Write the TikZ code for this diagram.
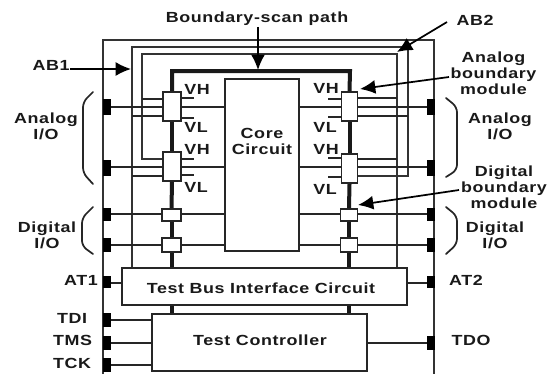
\documentclass[tikz,border=0pt]{standalone}
\usepackage{fontspec}
\setmainfont[FakeStretch=1.22,LetterSpace=4]{Liberation Sans}
\usetikzlibrary{arrows.meta}
\tikzset{
  wire/.style={line width=1.2pt,black!85},
  busline/.style={line width=1.6pt,black!80},
  frameline/.style={line width=1.6pt,black!80},
  scanpath/.style={line width=3pt,black!90},
  boxed/.style={draw=black!85,line width=1.4pt,fill=white,inner sep=0pt},
  pad/.style={fill=black,inner sep=0pt,minimum width=8*0.75pt},
  lab/.style={font=\bfseries\fontsize{11pt}{12pt}\selectfont,inner sep=0.5pt,align=center,text=black!90},
  pointer/.style={line width=1.3pt,black,-{Latex[length=11.5pt,width=10.5pt]}},
  bracket/.style={line width=1.3pt,black!85,line cap=round,rounded corners=4pt}
}
\begin{document}
\begin{tikzpicture}[x=0.75pt,y=-0.75pt]
\useasboundingbox (0,0) rectangle (548,376);
% named corners
\coordinate (frBL) at (103,374); \coordinate (frTL) at (103,40);
\coordinate (frTR) at (434,40);  \coordinate (frBR) at (434,374);
\coordinate (abATL) at (132,47); \coordinate (abATR) at (408,47);
\coordinate (abBTL) at (142,54); \coordinate (abBTR) at (397,54);
\coordinate (spL) at (172,71);   \coordinate (spR) at (350,71);
% boxes
\node[boxed,minimum width=74*0.75pt,minimum height=172*0.75pt] (core) at (262,165) {};
\node[boxed,minimum width=285*0.75pt,minimum height=37*0.75pt] (tbic) at (264.5,286.5) {};
\node[boxed,minimum width=215*0.75pt,minimum height=57*0.75pt] (tc) at (259.5,342.5) {};
% modules
\node[boxed,minimum width=18*0.75pt,minimum height=29*0.75pt] (mL1) at (172,106.5) {};
\node[boxed,minimum width=18*0.75pt,minimum height=29*0.75pt] (mL2) at (172,166.5) {};
\node[boxed,minimum width=16*0.75pt,minimum height=29*0.75pt] (mR1) at (349.5,106.5) {};
\node[boxed,minimum width=16*0.75pt,minimum height=29*0.75pt] (mR2) at (349.5,168.5) {};
\node[boxed,minimum width=19*0.75pt,minimum height=12*0.75pt] (dL1) at (171.5,215) {};
\node[boxed,minimum width=19*0.75pt,minimum height=14*0.75pt] (dL2) at (171.5,245) {};
\node[boxed,minimum width=17*0.75pt,minimum height=12*0.75pt] (dR1) at (349,215) {};
\node[boxed,minimum width=17*0.75pt,minimum height=14*0.75pt] (dR2) at (349,245) {};
% frame
\draw[frameline] (frBL) -- (frTL) -- (frTR) -- (frBR);
% pads
\node[pad,minimum height=16*0.75pt] (pL1) at (107,106.5) {};
\node[pad,minimum height=16*0.75pt] (pL2) at (107,167.5) {};
\node[pad,minimum height=13*0.75pt] (pL3) at (107,214) {};
\node[pad,minimum height=14*0.75pt] (pL4) at (107,245) {};
\node[pad,minimum height=12*0.75pt] (pAT1) at (107,282) {};
\node[pad,minimum height=14*0.75pt] (pTDI) at (107,320) {};
\node[pad,minimum height=14*0.75pt] (pTMS) at (107,343) {};
\node[pad,minimum height=14*0.75pt] (pTCK) at (107,365) {};
\node[pad,minimum height=16*0.75pt] (pR1) at (431,106.5) {};
\node[pad,minimum height=16*0.75pt] (pR2) at (431,167.5) {};
\node[pad,minimum height=13*0.75pt] (pR3) at (431,214) {};
\node[pad,minimum height=14*0.75pt] (pR4) at (431,245) {};
\node[pad,minimum height=12*0.75pt] (pAT2) at (431,282) {};
\node[pad,minimum height=14*0.75pt] (pTDO) at (431,343) {};
% analog-bus lines
\draw[busline] (tbic.north -| abATL) -- (abATL) -- (abATR) -- (abATR |- 0,176) -- (mR2.east |- 0,176);
\draw[busline] (tbic.north -| abBTR) -- (abBTR) -- (abBTL) -- (abBTL |- 0,159) -- (mL2.west |- 0,159);
\draw[wire] (abBTL |- 0,99) -- (mL1.west |- 0,99);
\draw[wire] (abATL |- 0,116) -- (mL1.west |- 0,116);
\draw[wire] (abATL |- 0,176) -- (mL2.west |- 0,176);
\draw[wire] (abBTR |- 0,98) -- (mR1.east |- 0,98);
\draw[wire] (abATR |- 0,116) -- (mR1.east |- 0,116);
\draw[wire] (abBTR |- 0,159) -- (mR2.east |- 0,159);
% signal lines
\foreach \pd/\md/\yy in {pL1/mL1/107,pL2/mL2/167,pL3/dL1/214,pL4/dL2/245}{
  \draw[wire] (\pd.east |- 0,\yy) -- (\md.west |- 0,\yy);
  \draw[wire] (\md.east |- 0,\yy) -- (core.west |- 0,\yy);
}
\foreach \pd/\md/\yy in {pR1/mR1/107,pR2/mR2/167,pR3/dR1/214,pR4/dR2/245}{
  \draw[wire] (\pd.west |- 0,\yy) -- (\md.east |- 0,\yy);
  \draw[wire] (\md.west |- 0,\yy) -- (core.east |- 0,\yy);
}
\draw[wire] (pAT1.east |- 0,283) -- (tbic.west |- 0,283);
\draw[wire] (pAT2.west |- 0,283) -- (tbic.east |- 0,283);
\draw[wire] (pTDI.east) -- (tc.west |- pTDI);
\draw[wire] (pTMS.east) -- (tc.west |- pTMS);
\draw[wire] (pTCK.east) -- (tc.west |- pTCK);
\draw[wire] (pTDO.west) -- (tc.east |- pTDO);
% VH / VL stubs
\foreach \md/\yy in {mL1/98,mL1/118,mL2/159,mL2/175}{
  \draw[wire] (\md.east |- 0,\yy) -- ++(12,0);
}
\foreach \md/\yy in {mR1/99,mR1/117,mR2/158,mR2/177}{
  \draw[wire] (\md.west |- 0,\yy) -- ++(-13,0);
}
% boundary-scan path
\draw[scanpath] (mL1.north) -- (spL) -- (spR) -- (mR1.north);
\draw[scanpath] (mL1.south) -- (mL2.north);
\draw[scanpath] (mL2.south) -- (dL1.north);
\draw[scanpath] (dL1.south) -- (dL2.north);
\draw[scanpath] (dL2.south) -- (tbic.north -| dL2);
\draw[scanpath] (mR1.south) -- (mR2.north);
\draw[scanpath] (mR2.south) -- (dR1.north);
\draw[scanpath] (dR1.south) -- (dR2.north);
\draw[scanpath] (dR2.south) -- (tbic.north -| dR2);
\draw[scanpath] (tbic.south -| dL2) -- (tc.north -| dL2);
\draw[scanpath] (tbic.south -| dR2) -- (tc.north -| dR2);
% labels
\node[lab] (bsp) at (257,19) {Boundary-scan path};
\node[lab] (ab2) at (475,20) {AB2};
\node[lab] (ab1) at (51,65) {AB1};
\node[lab] (anL) at (46,126.5) {Analog\\I/O};
\node[lab] (anR) at (500,126.5) {Analog\\I/O};
\node[lab] (abm) at (493.5,73) {Analog\\boundary\\module};
\node[lab] (dbm) at (504,187.5) {Digital\\boundary\\module};
\node[lab] (diL) at (47,235.5) {Digital\\I/O};
\node[lab] (diR) at (495,235.5) {Digital\\I/O};
\node[lab] (at1) at (81,280) {AT1};
\node[lab] (at2) at (466,280) {AT2};
\node[lab] (tdi) at (72,318) {TDI};
\node[lab] (tms) at (72.5,340) {TMS};
\node[lab] (tck) at (72,363) {TCK};
\node[lab] (tdo) at (471,340) {TDO};
\node[lab] (cc) at (262,141.5) {Core\\Circuit};
\node[lab] (tbl) at (261,288) {Test Bus Interface Circuit};
\node[lab] (tcl) at (260,340) {Test Controller};
\foreach \nm/\xx/\yy/\tx in {vhA/197/89/VH,vlA/196/127/VL,vhB/197/149/VH,vlB/196/187/VL,
  vhC/326/88/VH,vlC/325/127/VL,vhD/326/149/VH,vlD/325/189/VL}{
  \node[lab] (\nm) at (\xx,\yy) {\tx};
}
% pointers
\coordinate (tipBsp) at (258,70);
\coordinate (tipAb1) at (131,69);
\coordinate (tipAb2) at (397,52);
\coordinate (tailAb2) at (447,22);
\coordinate (tipAbm) at (360,89);
\coordinate (tailAbm) at (449,77);
\coordinate (tipDbm) at (358,205);
\coordinate (tailDbm) at (459,190);
\draw[pointer] (bsp.south -| tipBsp) -- (tipBsp);
\draw[pointer] (ab1.east |- tipAb1) -- (tipAb1);
\draw[pointer] (tailAb2) -- (tipAb2);
\draw[pointer] (tailAbm) -- (tipAbm);
\draw[pointer] (tailDbm) -- (tipDbm);
% brackets
\draw[bracket] (93,92) -- (83,102) -- (83,173) -- (93,184);
\draw[bracket] (446,98) -- (457,107) -- (457,170) -- (446,177);
\draw[bracket] (93,207) -- (82,218) -- (82,246) -- (93,254);
\draw[bracket] (446,207) -- (457,216) -- (457,244) -- (446,254);
\end{tikzpicture}
\end{document}
